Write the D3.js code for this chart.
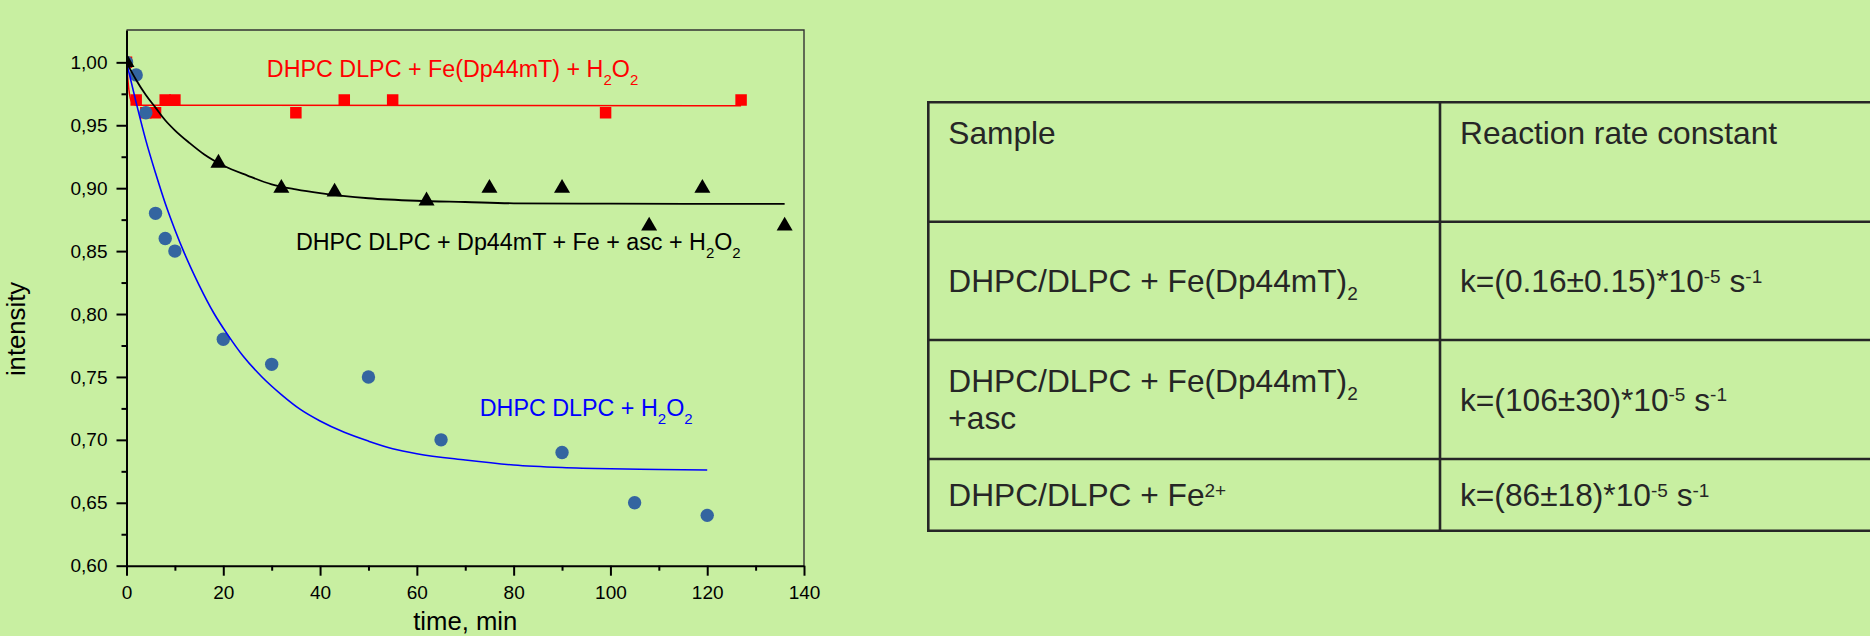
<!DOCTYPE html>
<html>
<head>
<meta charset="utf-8">
<script src="https://cdn.jsdelivr.net/npm/d3@7"></script>
<style>
  html, body { margin: 0; padding: 0; background: #c8efa1; overflow: hidden; }
  svg { display: block; font-family: "Liberation Sans", Arial, sans-serif; }
  text { white-space: pre; }
</style>
</head>
<body>
<div id="chart"></div>
<script>
// measured points (time in min, normalised intensity)
let t_red = [0, 2, 4, 6, 8, 10, 35, 45, 55, 99, 127];
let v_red = [1.00, 0.97, 0.96, 0.96, 0.97, 0.97, 0.96, 0.97, 0.97, 0.96, 0.97];

let t_black = [0, 19, 32, 43, 62, 75, 90, 108, 119, 136];
let v_black = [1.00, 0.92, 0.90, 0.897, 0.89, 0.90, 0.90, 0.87, 0.90, 0.87];

let t_blue = [0, 2, 4, 6, 8, 10, 20, 30, 50, 65, 90, 105, 120];
let v_blue = [1.00, 0.99, 0.96, 0.88, 0.86, 0.85, 0.78, 0.76, 0.75, 0.70, 0.69, 0.65, 0.64];

// fitted curves
let fit_red_t = [0, 0.5, 1, 2, 127];
let fit_red_v = [1.000, 0.978, 0.969, 0.966, 0.9655];

let fit_black_t = [0, 2, 4, 6, 8, 10, 13, 16, 20, 25, 30, 35, 40, 50, 60, 70, 80, 100, 120, 136];
let fit_black_v = [1.000, 0.986, 0.974, 0.964, 0.954, 0.946, 0.936, 0.927, 0.918, 0.910, 0.903, 0.899, 0.896, 0.892, 0.890, 0.889, 0.888, 0.8877, 0.8875, 0.8875];

let fit_blue_t = [0, 2, 4, 6, 8, 10, 12, 15, 18, 21, 24, 28, 32, 36, 40, 45, 50, 55, 60, 70, 80, 90, 100, 110, 120];
let fit_blue_v = [1.000, 0.968, 0.938, 0.912, 0.888, 0.867, 0.848, 0.823, 0.801, 0.783, 0.767, 0.750, 0.736, 0.724, 0.715, 0.706, 0.699, 0.693, 0.689, 0.684, 0.680, 0.678, 0.677, 0.6765, 0.676];

// curve labels  (_{} = subscript, ^{} = superscript)
let curve_labels = [
  "DHPC DLPC + Fe(Dp44mT) + H_{2}O_{2}",
  "DHPC DLPC + Dp44mT + Fe + asc + H_{2}O_{2}",
  "DHPC DLPC + H_{2}O_{2}"
];
let label_t = [29, 35, 73];
let label_v = [0.988, 0.851, 0.719];

let x_ticks = [0, 20, 40, 60, 80, 100, 120, 140];
let y_ticks = [0.60, 0.65, 0.70, 0.75, 0.80, 0.85, 0.90, 0.95, 1.00];

// table
let col_headers = ["Sample", "Reaction rate constant"];
let samples = [
  "DHPC/DLPC + Fe(Dp44mT)_{2}",
  "DHPC/DLPC + Fe(Dp44mT)_{2}\n+asc",
  "DHPC/DLPC + Fe^{2+}"
];
let rate_k = [
  "k=(0.16±0.15)*10^{-5} s^{-1}",
  "k=(106±30)*10^{-5} s^{-1}",
  "k=(86±18)*10^{-5} s^{-1}"
];

let svg_width = 1870;
let svg_height = 636;

let svg = d3.select('#chart').append('svg')
  .attr('width', svg_width)
  .attr('height', svg_height);

svg.append('rect').attr('width', svg_width).attr('height', svg_height).attr('fill', '#c8efa1');

// plot box
let px0 = 126.5, px1 = 804, py0 = 30, py1 = 565.7;

let x = d3.scaleLinear().domain([0, 140]).range([px0, px1]);
let y = d3.scaleLinear().domain([0.6, 1.0257]).range([py1, py0]);

// write text with sub/superscripts as tspans
function richText(sel, str, small, sub, sup) {
  let re = /([_^])\{([^}]*)\}/g, last = 0, m, parts = [];
  while ((m = re.exec(str)) !== null) {
    if (m.index > last) parts.push({s: str.slice(last, m.index), k: ''});
    parts.push({s: m[2], k: m[1]});
    last = re.lastIndex;
  }
  if (last < str.length) parts.push({s: str.slice(last), k: ''});
  let cur = 0;
  parts.forEach(function(p) {
    let target = p.k === '_' ? sub : (p.k === '^' ? sup : 0);
    let ts = sel.append('tspan').attr('dy', target - cur).text(p.s);
    if (p.k) ts.attr('font-size', small);
    cur = target;
  });
}

svg.append('clipPath').attr('id', 'plotclip')
  .append('rect').attr('x', px0).attr('y', py0).attr('width', px1 - px0).attr('height', py1 - py0);

// frame top/right
svg.append('path')
  .attr('d', `M${px0},${py0}H${px1}V${py1}`)
  .attr('fill', 'none').attr('stroke', '#333').attr('stroke-width', 1.4);

let plot = svg.append('g').attr('clip-path', 'url(#plotclip)');

let line = d3.line().x(d => x(d[0])).y(d => y(d[1])).curve(d3.curveMonotoneX);

// red series
plot.append('path')
  .attr('d', line(d3.zip(fit_red_t, fit_red_v)))
  .attr('fill', 'none').attr('stroke', '#ff0000').attr('stroke-width', 1.5);
plot.selectAll('.sq').data(d3.zip(t_red, v_red)).enter().append('path')
  .attr('class', 'sq')
  .attr('d', d3.symbol().type(d3.symbolSquare).size(132))
  .attr('transform', d => `translate(${x(d[0])},${y(d[1])})`)
  .attr('fill', '#ff0000');

// blue series
plot.selectAll('.ci').data(d3.zip(t_blue, v_blue)).enter().append('path')
  .attr('class', 'ci')
  .attr('d', d3.symbol().type(d3.symbolCircle).size(141))
  .attr('transform', d => `translate(${x(d[0])},${y(d[1])})`)
  .attr('fill', '#3465a0');
plot.append('path')
  .attr('d', line(d3.zip(fit_blue_t, fit_blue_v)))
  .attr('fill', 'none').attr('stroke', '#0000ff').attr('stroke-width', 1.6);

// black series
plot.append('path')
  .attr('d', line(d3.zip(fit_black_t, fit_black_v)))
  .attr('fill', 'none').attr('stroke', '#000').attr('stroke-width', 1.8);
plot.selectAll('.tr').data(d3.zip(t_black, v_black)).enter().append('path')
  .attr('class', 'tr')
  .attr('d', d3.symbol().type(d3.symbolTriangle).size(111))
  .attr('transform', d => `translate(${x(d[0])},${y(d[1])})`)
  .attr('fill', '#000');

// axes
let fmt = d => d3.format('.2f')(d).replace('.', ',');

svg.append('g').attr('transform', `translate(0,${py1})`)
  .call(d3.axisBottom(x).tickValues(x_ticks).tickSize(10).tickPadding(10).tickSizeOuter(0));
svg.append('g').attr('transform', `translate(0,${py1})`)
  .call(d3.axisBottom(x).tickValues(d3.range(10, 140, 20)).tickSize(5).tickFormat(''))
  .select('.domain').remove();

svg.append('g').attr('transform', `translate(${px0},0)`)
  .call(d3.axisLeft(y).tickValues(y_ticks).tickFormat(fmt).tickSize(10).tickPadding(9).tickSizeOuter(0));
svg.append('g').attr('transform', `translate(${px0},0)`)
  .call(d3.axisLeft(y).tickValues(d3.range(0.625, 1.01, 0.05)).tickSize(5).tickFormat(''))
  .select('.domain').remove();

svg.selectAll('.domain, .tick line').attr('stroke', '#000').attr('stroke-width', 2);
svg.selectAll('.tick text').attr('font-size', 19).attr('fill', '#000')
  .attr('font-family', '"Liberation Sans", Arial, sans-serif');

// axis titles (nudged just inside the page edges)
svg.append('text')
  .attr('x', (px0 + px1) / 2).attr('y', 630)
  .attr('text-anchor', 'middle').attr('font-size', 25.7).attr('fill', '#000')
  .text('time, min');
svg.append('text')
  .attr('transform', 'translate(25,329) rotate(-90)')
  .attr('text-anchor', 'middle').attr('font-size', 25.7).attr('fill', '#000')
  .text('intensity');

// curve labels
let label_colors = ['#ff0000', '#000000', '#0000ff'];
curve_labels.forEach(function(s, i) {
  let t = svg.append('text')
    .attr('x', x(label_t[i])).attr('y', y(label_v[i]))
    .attr('font-size', 23.3).attr('fill', label_colors[i]);
  richText(t, s, 15, 8, -9);
});

// table on the right
let tx0 = 928.3, tx1 = 1440, tx2 = 1880;
let row_y = [102.3, 221.7, 340, 459, 530.7];
let tcol = '#262626';
let tsize = 31.7;

let tbl = svg.append('g');
tbl.selectAll('.hl').data(row_y).enter().append('line')
  .attr('x1', tx0).attr('x2', tx2).attr('y1', d => d).attr('y2', d => d)
  .attr('stroke', tcol).attr('stroke-width', 2.6);
tbl.selectAll('.vl').data([tx0, tx1]).enter().append('line')
  .attr('x1', d => d).attr('x2', d => d).attr('y1', row_y[0] - 1.3).attr('y2', row_y[4] + 1.3)
  .attr('stroke', tcol).attr('stroke-width', 2.6);

// header
col_headers.forEach(function(h, i) {
  tbl.append('text')
    .attr('x', (i === 0 ? tx0 : tx1) + 20).attr('y', row_y[0] + 42)
    .attr('font-size', tsize).attr('fill', tcol).text(h);
});

// body rows
let lineGap = 37.3;
samples.forEach(function(s, r) {
  let cy = (row_y[r + 1] + row_y[r + 2]) / 2 + tsize * 0.716 / 2;
  let lines = s.split('\n');
  lines.forEach(function(ln, j) {
    let t = tbl.append('text')
      .attr('x', tx0 + 20).attr('y', cy + (j - (lines.length - 1) / 2) * lineGap)
      .attr('font-size', tsize).attr('fill', tcol);
    richText(t, ln, 19, 8, -9.5);
  });
  let k = tbl.append('text')
    .attr('x', tx1 + 20).attr('y', cy)
    .attr('font-size', tsize).attr('fill', tcol);
  richText(k, rate_k[r], 19, 8, -9.5);
});
</script>
</body>
</html>
